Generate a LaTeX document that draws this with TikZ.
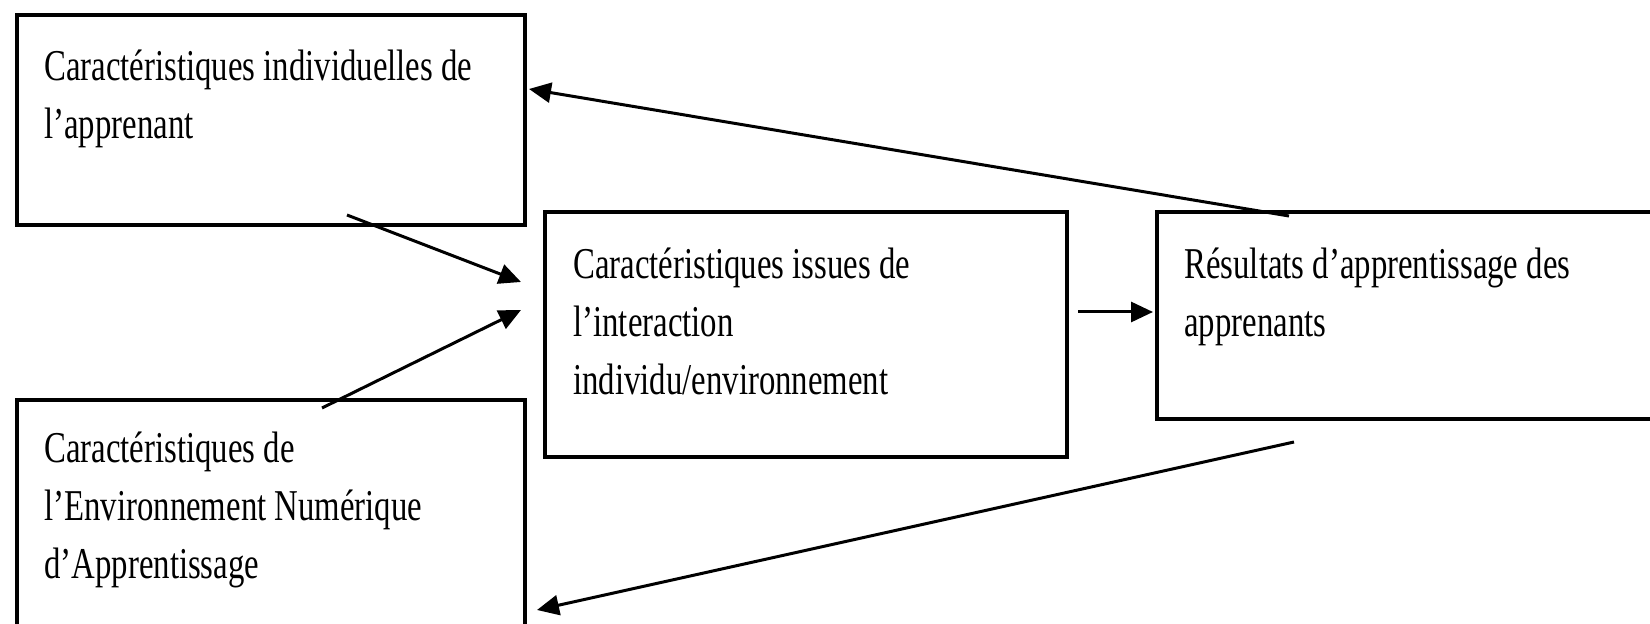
\documentclass[tikz,border=0pt]{standalone}
\usepackage{fontspec}
\setmainfont{Liberation Serif}[FakeStretch=0.745]
\usetikzlibrary{arrows.meta}
\begin{document}
\begin{tikzpicture}[x=0.5pt,y=-0.5pt,
  box/.style={draw=black,line width=2pt,inner sep=0pt,anchor=north west},
  txt/.style={anchor=base west,inner sep=0pt,align=left,font=\fontsize{22}{29}\selectfont},
  conn/.style={draw=black,line width=1.5pt,-{Triangle[length=11pt,width=10pt]}}]
\useasboundingbox (0,0) rectangle (1650,624);
\node[box,minimum width=254pt,minimum height=105pt] (A) at (15,13) {};
\node[box,minimum width=254pt,minimum height=126pt] (B) at (15,398) {};
\node[box,minimum width=261pt,minimum height=122.5pt] (C) at (543,210) {};
\node[box,minimum width=255pt,minimum height=103.5pt] (D) at (1155,210) {};
\node[txt] (tA) at (44,139) {Caractéristiques individuelles de\\l’apprenant};
\node[txt] (tB) at (44,579) {Caractéristiques de\\l’Environnement Numérique\\d’Apprentissage};
\node[txt] (tC) at (573,395) {Caractéristiques issues de\\l’interaction\\individu/environnement};
\node[txt] (tD) at (1184,337) {Résultats d’apprentissage des\\apprenants};
\coordinate (a1) at (347,215); \coordinate (c1) at (521,282);
\coordinate (b1) at (322,408); \coordinate (c2) at (521,310);
\coordinate (c3) at (1078,312); \coordinate (d1) at (1153,312);
\coordinate (d2) at (1289,216); \coordinate (a2) at (529,89);
\coordinate (d3) at (1294,442); \coordinate (b2) at (537,610);
\draw[conn] (a1) -- (c1);
\draw[conn] (b1) -- (c2);
\draw[conn] (c3) -- (d1);
\draw[conn] (d2) -- (a2);
\draw[conn] (d3) -- (b2);
\end{tikzpicture}
\end{document}
